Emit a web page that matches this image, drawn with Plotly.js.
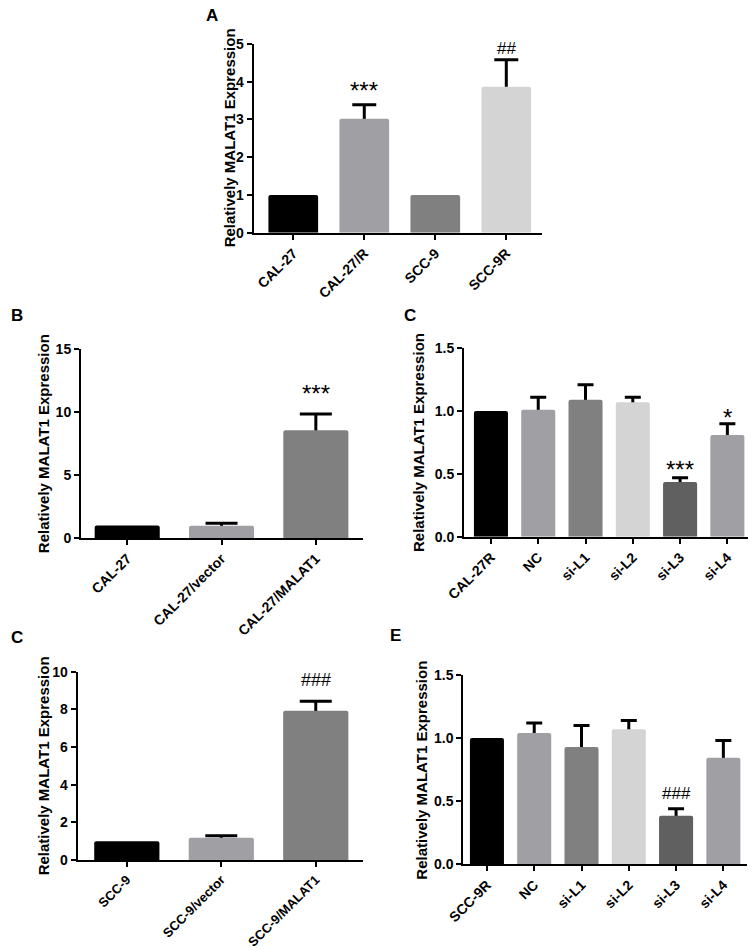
<!DOCTYPE html>
<html><head><meta charset="utf-8">
<script src="https://cdn.plot.ly/plotly-3.0.1.min.js"></script>
<style>html,body{margin:0;padding:0;background:#fff}#chart{width:753px;height:950px}</style>
</head><body><div id="chart"></div>
<script>
// ---------- data ----------
const catsA = ['CAL-27', 'CAL-27/R', 'SCC-9', 'SCC-9R'];
const valsA = [1.0, 3.02, 1.0, 3.87];
const errA  = [0, 0.37, 0, 0.71];
const marksA = ['', '***', '', '##'];

const catsB = ['CAL-27', 'CAL-27/vector', 'CAL-27/MALAT1'];
const valsB = [1.0, 0.98, 8.56];
const errB  = [0, 0.19, 1.3];
const marksB = ['', '', '***'];

const catsC = ['CAL-27R', 'NC', 'si-L1', 'si-L2', 'si-L3', 'si-L4'];
const valsC = [1.0, 1.01, 1.09, 1.07, 0.435, 0.81];
const errC  = [0, 0.10, 0.12, 0.04, 0.035, 0.09];
const marksC = ['', '', '', '', '***', '*'];

const catsD = ['SCC-9', 'SCC-9/vector', 'SCC-9/MALAT1'];
const valsD = [1.0, 1.18, 7.93];
const errD  = [0, 0.11, 0.5];
const marksD = ['', '', '###'];

const catsE = ['SCC-9R', 'NC', 'si-L1', 'si-L2', 'si-L3', 'si-L4'];
const valsE = [1.0, 1.04, 0.93, 1.07, 0.385, 0.845];
const errE  = [0, 0.08, 0.17, 0.07, 0.055, 0.135];
const marksE = ['', '', '', '', '###', ''];

const yTitle = 'Relatively MALAT1 Expression';

// ---------- styles ----------
const colA = ['#000000', '#A0A0A4', '#808080', '#D4D4D4'];
const col3 = ['#000000', '#A0A0A4', '#808080'];
const col6 = ['#000000', '#A0A0A4', '#808080', '#D4D4D4', '#606060', '#A0A0A4'];

const W = 753, H = 950;
const px = v => v / W;
const py = v => 1 - v / H;

const panels = [
  {letter:'A', cats:catsA, vals:valsA, errs:errA, marks:marksA, colors:colA,
   x0:253.5, x1:541.8, yTop:44, yBot:232.7, yrange:[0,5], dtick:1, fmt:'d',
   xrange:[-0.56,3.5], bw:0.70, cap:12, markOff:[0,-0.04,0,0], markSize:[24,24,24,17],
   titleX:229, letterX:212, letterY:15, xfont:14},
  {letter:'B', cats:catsB, vals:valsB, errs:errB, marks:marksB, colors:col3,
   x0:81, x1:363, yTop:349.3, yBot:538, yrange:[0,15], dtick:5, fmt:'d',
   xrange:[-0.49,2.5], bw:0.69, cap:16, markOff:[0,0,0.43], markSize:[24,24,24],
   titleX:43.5, letterX:17, letterY:316, xfont:14},
  {letter:'C', cats:catsC, vals:valsC, errs:errC, marks:marksC, colors:col6,
   x0:464, x1:747.7, yTop:348.3, yBot:536.7, yrange:[0,1.5], dtick:0.5, fmt:'.1f',
   xrange:[-0.57,5.43], bw:0.72, cap:8, markOff:[0,0,0,0,-0.06,-0.075], markSize:[24,24,24,24,24,24],
   titleX:418.5, letterX:410, letterY:316, xfont:14},
  {letter:'C', cats:catsD, vals:valsD, errs:errD, marks:marksD, colors:col3,
   x0:77.7, x1:363, yTop:671.7, yBot:860, yrange:[0,10], dtick:2, fmt:'d',
   xrange:[-0.52,2.5], bw:0.69, cap:16, markOff:[0,0,0.47], markSize:[18,18,18],
   titleX:43.5, letterX:17, letterY:637, xfont:13},
  {letter:'E', cats:catsE, vals:valsE, errs:errE, marks:marksE, colors:col6,
   x0:463.3, x1:747, yTop:675, yBot:864.3, yrange:[0,1.5], dtick:0.5, fmt:'.1f',
   xrange:[-0.5,5.5], bw:0.72, cap:8, markOff:[0,0,0,0,0.03,0], markSize:[17,17,17,17,17,17],
   titleX:422, letterX:395, letterY:635, xfont:14}
];

const boldFont = {family:'Liberation Sans, Arial, sans-serif', color:'#000', weight:'bold'};
const traces = [];
const layout = {
  width: W, height: H, margin:{l:0,r:0,t:0,b:0},
  paper_bgcolor:'#fff', plot_bgcolor:'rgba(0,0,0,0)',
  showlegend:false, barmode:'overlay', annotations:[]
};

panels.forEach((p, i) => {
  const n = i === 0 ? '' : String(i + 1);
  const xid = 'x' + n, yid = 'y' + n;
  const errShown = p.errs.map(e => e > 0 ? e : NaN);
  // carrier for the error bars (lower half is hidden behind the real bars drawn after it)
  traces.push({
    type:'bar', x:p.cats, y:p.vals, xaxis:xid, yaxis:yid, width:p.bw,
    marker:{color:'rgba(0,0,0,0)'}, hoverinfo:'skip',
    error_y:{type:'data', array:errShown, symmetric:true, color:'#000', thickness:3, width:p.cap}
  });
  traces.push({
    type:'bar', x:p.cats, y:p.vals, xaxis:xid, yaxis:yid, width:p.bw,
    marker:{color:p.colors, line:{width:0}, cornerradius:2}
  });
  layout['xaxis' + n] = {
    domain:[px(p.x0), px(p.x1)], anchor:yid, type:'category', range:p.xrange,
    showline:true, linewidth:2, linecolor:'#000', ticks:'outside', ticklen:5, tickwidth:2,
    tickcolor:'#000', tickangle:-45, showgrid:false, zeroline:false, fixedrange:true,
    tickfont:Object.assign({size:p.xfont}, boldFont)
  };
  layout['yaxis' + n] = {
    domain:[py(p.yBot), py(p.yTop)], anchor:xid, range:p.yrange, dtick:p.dtick, tick0:0,
    tickformat:p.fmt, showline:true, linewidth:2, linecolor:'#000', ticks:'outside',
    ticklen:5, tickwidth:2, tickcolor:'#000', showgrid:false, zeroline:false, fixedrange:true,
    tickfont:Object.assign({size:14}, boldFont)
  };
  // significance marks
  p.marks.forEach((m, k) => {
    if (!m) return;
    layout.annotations.push({
      xref:xid, yref:yid, x:p.cats[k], y:p.vals[k] + p.errs[k] + p.markOff[k],
      text:m, showarrow:false, yanchor:'bottom',
      font:{family:'Liberation Sans, Arial, sans-serif', size:p.markSize[k], color:'#000'}
    });
  });
  // y axis title
  layout.annotations.push({
    xref:'paper', yref:'paper', x:px(p.titleX), y:py((p.yTop + p.yBot) / 2),
    text:yTitle, textangle:-90, showarrow:false, xanchor:'center', yanchor:'middle',
    font:Object.assign({size:15}, boldFont)
  });
  // panel letter
  layout.annotations.push({
    xref:'paper', yref:'paper', x:px(p.letterX), y:py(p.letterY),
    text:p.letter, showarrow:false, xanchor:'center', yanchor:'middle',
    font:Object.assign({size:17}, boldFont)
  });
});

Plotly.newPlot('chart', traces, layout, {displayModeBar:false, staticPlot:true});
</script>
</body></html>
